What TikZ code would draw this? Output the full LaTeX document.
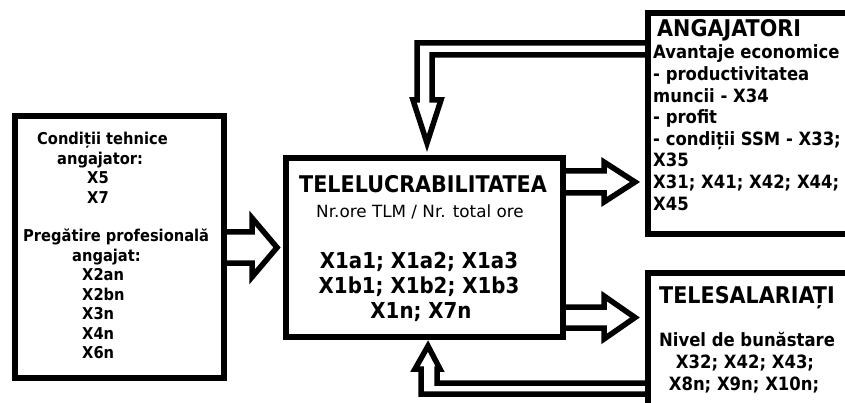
\documentclass[tikz,border=0pt]{standalone}
\usepackage{fontspec}
\setmainfont{DejaVu Sans}[FakeStretch=0.9]
\newfontfamily\widefont{DejaVu Sans}
\usetikzlibrary{calc}
\begin{document}
\begin{tikzpicture}[x=1pt,y=-1pt,
  box/.style={draw, line width=6pt, inner sep=0pt},
  arr/.style={draw, line width=5.5pt, line join=miter},
  lt/.style={font=\bfseries\fontsize{16.3}{19}\selectfont, inner sep=0pt, anchor=base west},
  ct/.style={font=\bfseries\fontsize{22}{24}\selectfont, inner sep=0pt, anchor=base},
  rt/.style={font=\bfseries\fontsize{18.3}{21}\selectfont, inner sep=0pt},
  ttl/.style={font=\bfseries\fontsize{23}{26}\selectfont, inner sep=0pt}]
\useasboundingbox (0,0) rectangle (845,403);
\clip (0,0) rectangle (845,403);
% boxes
\node[box, minimum width=209pt, minimum height=262pt] (L) at (119.5,247) {};
\node[box, minimum width=277pt, minimum height=179pt] (C) at (424.5,247.5) {};
\node[box, minimum width=222pt, minimum height=221pt] (A) at (759,123.5) {};
\node[box, minimum width=222pt, minimum height=147pt] (T) at (759,346.5) {};
% left box text
\foreach \xx/\yy/\s [count=\i] in {37/145/Condiții tehnice, 57/164.4/angajator:, 87/183.8/X5, 87/203.2/X7, 23/242/Pregătire profesională, 72/261.4/angajat:, 82/280.8/X2an, 82/300.2/X2bn, 82/319.6/X3n, 82/339/X4n, 82/358.4/X6n}
  \node[lt] (lt\i) at (\xx,\yy) {\s};
% center box text
\node[ttl, anchor=base] (ctitle) at (423,193) {TELELUCRABILITATEA};
\node[inner sep=0pt, anchor=base, font=\widefont\fontsize{16.8}{19}\selectfont] (csub) at (420,218) {Nr.ore TLM / Nr. total ore};
\node[ct] (c1) at (419,269) {X1a1; X1a2; X1a3};
\node[ct] (c2) at (419,293) {X1b1; X1b2; X1b3};
\node[ct] (c3) at (421,318) {X1n; X7n};
% angajatori text
\node[ttl, anchor=base west] (atitle) at (657,37) {ANGAJATORI};
\foreach \yy/\s [count=\i] in {59/Avantaje economice, 80.6/- productivitatea, 102.2/muncii - X34, 123.8/- profit, 145.4/- condiții SSM - X33;, 167/X35, 188.6/X31; X41; X42; X44;, 210.2/X45}
  \node[rt, anchor=base west] (at\i) at (653,\yy) {\s};
% telesalariati text
\node[ttl, anchor=base west] (ttitle) at (659,303) {TELESALARIAȚI};
\node[rt, anchor=base] (t1) at (747,346) {Nivel de bunăstare};
\node[rt, anchor=base] (t2) at (745,368) {X32; X42; X43;};
\node[rt, anchor=base] (t3) at (744,390) {X8n; X9n; X10n;};
% block arrows
\draw[arr] (L.east |- 0,232) -- (252,232) -- (252,218) -- ($(C.west)+(-6,0)$) -- (252,277) -- (252,263) -- (L.east |- 0,263);
\draw[arr] (C.east |- 0,171) -- (604,171) -- (604,162) -- ($(A.west |- 0,182)+(-10,0)$) -- (604,202) -- (604,193) -- (C.east |- 0,193);
\draw[arr] (C.east |- 0,307) -- (604,307) -- (604,296) -- ($(T.west |- 0,317.5)+(-10,0)$) -- (604,339) -- (604,328) -- (C.east |- 0,328);
% feedback arrows
\draw[arr] (A.west |- 0,43) -- (417,43) -- (417,100) -- (413,100) -- ($(C.north -| 427,0)+(0,-12)$) -- (441,100) -- (432,100) -- (432,55) -- (A.west |- 0,55);
\draw[arr] (T.west |- 0,383) -- (437,383) -- (437,369) -- (440,369) -- ($(C.south -| 428,0)+(0,6)$) -- (415,369) -- (421,369) -- (421,394) -- (T.west |- 0,394);
\end{tikzpicture}
\end{document}
